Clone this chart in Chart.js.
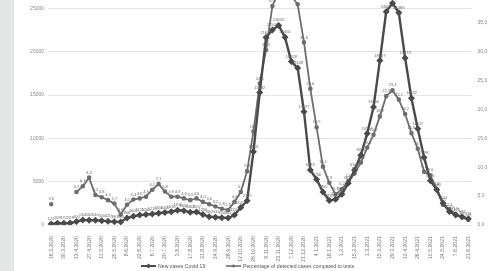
<!DOCTYPE html>
<html>
<head>
<meta charset="utf-8">
<script src="https://cdn.jsdelivr.net/npm/chart.js@4.4.0/dist/chart.umd.min.js"></script>
<style>
  html, body { margin: 0; padding: 0; background: #fff; width: 490px; height: 271px; overflow: hidden; }
  body { position: relative; font-family: "Liberation Sans", Arial, sans-serif; }
  #strip { position: absolute; left: 0; top: 0; width: 14px; height: 271px; background: #e5e6e8; }
  #wrap { position: absolute; left: 0; top: -45px; width: 490px; height: 310px; }
  .leg { position: absolute; top: 263px; font-size: 5.2px; color: #555; display: inline-flex; align-items: center; gap: 2px; white-space: nowrap; }
</style>
</head>
<body>
<div id="strip"></div>
<div id="wrap"><canvas id="chart" width="490" height="310"></canvas></div>
<span class="leg" style="left:141px"><svg width="15" height="6"><line x1="0" y1="3" x2="15" y2="3" stroke="#4a4a4a" stroke-width="2"/><rect x="5.7" y="1.2" width="3.6" height="3.6" fill="#4a4a4a" transform="rotate(45 7.5 3)"/></svg>New cases Covid 19</span>
<span class="leg" style="left:226px"><svg width="15" height="6"><line x1="0" y1="3" x2="15" y2="3" stroke="#6e6e6e" stroke-width="1.6"/><circle cx="7.5" cy="3" r="1.6" fill="#6e6e6e"/></svg>Percentage of detected cases compared to tests</span>
<script>
// weekly data
const weeks = [
  "16.3.2020", "23.3.2020", "30.3.2020", "6.4.2020", "13.4.2020", "20.4.2020", "27.4.2020",
  "4.5.2020", "11.5.2020", "18.5.2020", "25.5.2020", "1.6.2020", "8.6.2020", "15.6.2020",
  "22.6.2020", "29.6.2020", "6.7.2020", "13.7.2020", "20.7.2020", "27.7.2020", "3.8.2020",
  "10.8.2020", "17.8.2020", "24.8.2020", "31.8.2020", "7.9.2020", "14.9.2020", "21.9.2020",
  "28.9.2020", "5.10.2020", "12.10.2020", "19.10.2020", "26.10.2020", "2.11.2020", "9.11.2020",
  "16.11.2020", "23.11.2020", "30.11.2020", "7.12.2020", "14.12.2020", "21.12.2020", "28.12.2020",
  "4.1.2021", "11.1.2021", "18.1.2021", "25.1.2021", "1.2.2021", "8.2.2021", "15.2.2021",
  "22.2.2021", "1.3.2021", "8.3.2021", "15.3.2021", "22.3.2021", "29.3.2021", "5.4.2021",
  "12.4.2021", "19.4.2021", "26.4.2021", "3.5.2021", "10.5.2021", "17.5.2021", "24.5.2021",
  "31.5.2021", "7.6.2021", "14.6.2021", "21.6.2021"
];

const newCases = [
  122, 208, 191, 223, 400, 564, 560, 540, 500, 420, 380, 360, 806, 1000, 1150, 1200, 1270,
  1350, 1450, 1530, 1700, 1650, 1463, 1507, 1200, 960, 900, 850, 801, 1150, 2021, 2789,
  8453, 15282, 21641, 22502, 23032, 21650, 18858, 18108, 13077, 6333, 5256, 3800, 2839, 2960,
  3552, 4813, 6340, 8060, 10557, 13606, 18967, 24602, 25600, 24489, 19273, 14632, 11107,
  7798, 5115, 4080, 2524, 1555, 1155, 962, 711
];

const positivity = [
  3.6, null, null, null, 5.7, 6.7, 8.2, 5.2, 4.8, 4.3, 3.7, 1.8, 3.5, 4.4, 4.6, 4.9, 6.1,
  7.1, 5.8, 4.9, 4.9, 4.6, 4.3, 4.6, 4.0, 3.6, 3.2, 2.8, 2.6, 4.0, 5.7, 9.3,
  16.2, 24.5, 30.3, 37.9, 40.5, 41.0, 39.6, 38.2, 31.6, 23.6, 16.9, 10.1, 7.3, 5.3,
  6.2, 7.6, 8.9, 10.8, 13.4, 15.6, 18.8, 22.3, 23.3, 21.7, 19.2, 15.9, 13.2,
  9.2, 8.6, 6.2, 3.5, 2.7, 1.9, 1.3, 0.9
];

const comma = v => v.toFixed(1).replace(".", ",");

// small value labels next to each point
const valueLabels = {
  id: "valueLabels",
  afterDatasetsDraw(chart) {
    const ctx = chart.ctx;
    ctx.save();
    ctx.font = '4px "Liberation Sans", Arial, sans-serif';
    ctx.fillStyle = "#666";
    ctx.textAlign = "center";
    ctx.textBaseline = "bottom";
    chart.data.datasets.forEach((ds, di) => {
      chart.getDatasetMeta(di).data.forEach((pt, i) => {
        const v = ds.data[i];
        if (v == null) return;
        const txt = di === 0 ? String(v) : comma(v);
        ctx.fillText(txt, pt.x, pt.y - 3);
      });
    });
    ctx.restore();
  }
};

new Chart(document.getElementById("chart"), {
  type: "line",
  data: {
    labels: weeks,
    datasets: [{
      label: "New cases Covid 19",
      data: newCases,
      yAxisID: "y",
      borderColor: "#4a4a4a",
      backgroundColor: "#4a4a4a",
      borderWidth: 2.4,
      pointStyle: "rectRot",
      pointRadius: 1.8,
      tension: 0
    }, {
      label: "Percentage of detected cases compared to tests",
      data: positivity,
      yAxisID: "y1",
      borderColor: "#6e6e6e",
      backgroundColor: "#6e6e6e",
      borderWidth: 1.8,
      pointStyle: "circle",
      pointRadius: 1.4,
      spanGaps: false,
      tension: 0
    }]
  },
  options: {
    responsive: false,
    animation: false,
    devicePixelRatio: 1,
    layout: { padding: { top: 10, bottom: 2, left: 0, right: 0 } },
    plugins: { legend: { display: false }, tooltip: { enabled: false } },
    scales: {
      x: {
        offset: true,
        grid: { display: false },
        border: { display: false },
        afterFit: s => { s.height = 38; },
        ticks: {
          autoSkip: false,
          minRotation: 90,
          maxRotation: 90,
          padding: 3,
          color: "#777",
          font: { size: 5.2, family: '"Liberation Sans", Arial, sans-serif' },
          callback: function (v, i) { return i % 2 === 0 ? this.getLabelForValue(v) : ""; }
        }
      },
      y: {
        position: "left",
        min: 0, max: 30000,
        afterFit: s => { s.width = 48; },
        grid: { color: "#e4e4e4", lineWidth: 1, drawTicks: false },
        border: { display: false },
        ticks: {
          stepSize: 5000,
          padding: 4,
          color: "#888",
          font: { size: 5, family: '"Liberation Sans", Arial, sans-serif' },
          callback: v => String(v)
        }
      },
      y1: {
        position: "right",
        min: 0, max: 45,
        afterFit: s => { s.width = 18.5; },
        grid: { display: false, drawTicks: false },
        border: { display: false },
        ticks: {
          stepSize: 5,
          padding: 6,
          color: "#888",
          font: { size: 5, family: '"Liberation Sans", Arial, sans-serif' },
          callback: v => comma(v)
        }
      }
    }
  },
  plugins: [valueLabels]
});
</script>
</body>
</html>
